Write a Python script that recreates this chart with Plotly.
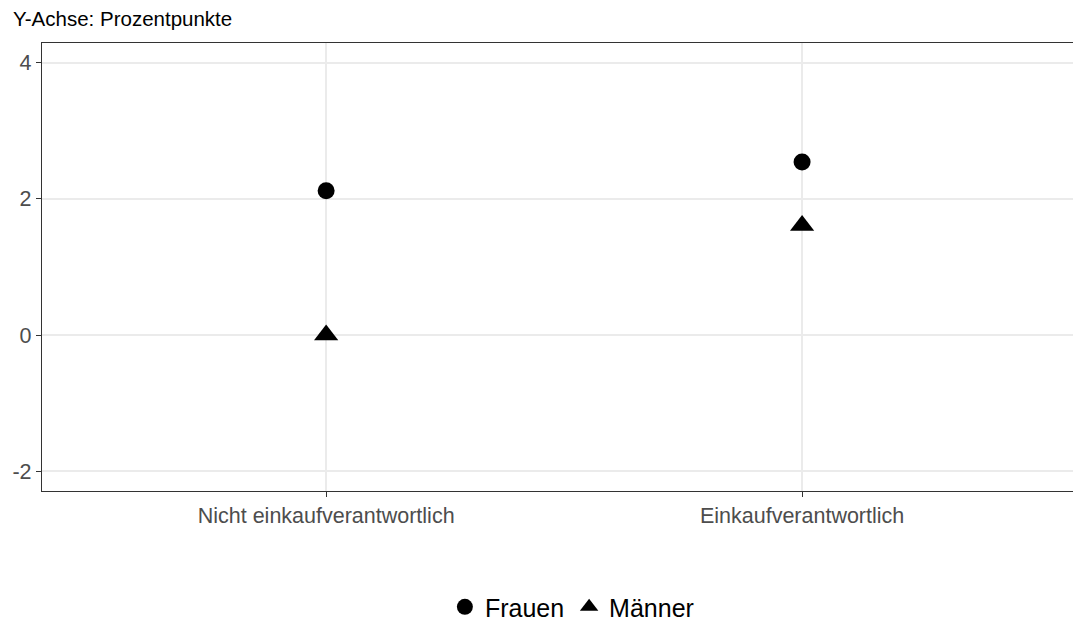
import plotly.graph_objects as go

categories = ["Nicht einkaufverantwortlich", "Einkaufverantwortlich"]
frauen = [2.12, 2.54]
maenner = [0.0, 1.61]
y_ticks = [-2, 0, 2, 4]
y_ticktext = [str(v) for v in y_ticks]
subtitle = "Y-Achse: Prozentpunkte"

FONT = "Liberation Sans, Arial, sans-serif"

fig = go.Figure()
fig.add_trace(go.Scatter(
    x=categories, y=frauen, mode="markers", name="Frauen",
    marker=dict(symbol="circle", size=17, color="black"),
))
fig.add_trace(go.Scatter(
    x=categories, y=maenner, mode="markers", name="Männer",
    marker=dict(symbol="triangle-up", size=21, color="black"),
))

fig.update_layout(
    width=1073, height=616,
    margin=dict(l=34, r=0, t=35, b=133, autoexpand=False),
    plot_bgcolor="white", paper_bgcolor="white",
    font=dict(family=FONT, color="black"),
    showlegend=True,
    legend=dict(
        orientation="h", x=0.510, xanchor="center", y=-0.259, yanchor="middle",
        font=dict(size=25, color="black"), itemsizing="trace",
        tracegroupgap=0,
    ),
    annotations=[dict(
        text=subtitle, xref="paper", yref="paper", x=-0.030, y=1.054,
        xanchor="left", yanchor="middle", showarrow=False,
        font=dict(size=20.5, color="black"),
    )],
)
fig.update_xaxes(
    type="category", range=[-0.597, 1.586],
    showgrid=True, gridcolor="#ebebeb", gridwidth=2,
    showline=True, linecolor="#333333", linewidth=1.3, mirror=True,
    ticks="outside", ticklen=5, tickcolor="#333333", tickwidth=1.3,
    tickfont=dict(size=21.5, color="#4d4d4d"), zeroline=False,
)
fig.update_yaxes(
    range=[-2.289, 4.288], tickvals=y_ticks, ticktext=y_ticktext,
    showgrid=True, gridcolor="#ebebeb", gridwidth=2,
    showline=True, linecolor="#333333", linewidth=1.3,
    ticks="outside", ticklen=5, tickcolor="#333333", tickwidth=1.3,
    tickfont=dict(size=21.5, color="#4d4d4d"), zeroline=False,
)

fig.write_html("out.html")
